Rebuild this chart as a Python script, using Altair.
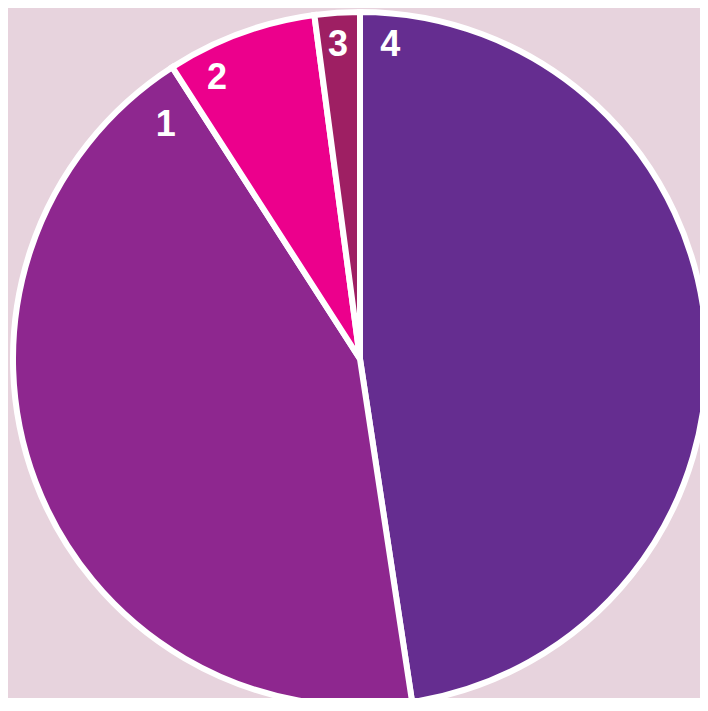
import altair as alt
import pandas as pd

# slice data (clockwise from 12 o'clock)
labels = ["4", "1", "2", "3"]
values = [47.6, 43.3, 7.0, 2.1]
colors = ["#652d90", "#8e278f", "#ec008c", "#9e1f63"]

# label placement (degrees clockwise from top, distance from centre)
label_angles = [5.5, 320.3, 333.0, 356.0]
label_radii = [315, 304, 315, 315]

df = pd.DataFrame({
    "label": labels,
    "value": values,
    "order": list(range(len(labels))),
    "angle": label_angles,
    "r": label_radii,
})

CX, CY = 352, 351

arcs = alt.Chart(df).mark_arc(
    outerRadius=347, stroke="white", strokeWidth=6
).encode(
    theta=alt.Theta("value:Q", stack=True),
    order=alt.Order("order:Q"),
    color=alt.Color("label:N", scale=alt.Scale(domain=labels, range=colors), legend=None),
    x=alt.value(CX),
    y=alt.value(CY),
)

text = alt.Chart(df).transform_calculate(
    rad="datum.angle * PI / 180"
).mark_text(
    font="Liberation Sans", fontWeight="bold", fontSize=36,
    color="white", align="center", baseline="middle"
).encode(
    theta=alt.Theta("rad:Q", scale=None, stack=None),
    radius=alt.Radius("r:Q", scale=None),
    text="label:N",
    x=alt.value(CX),
    y=alt.value(CY),
)

chart = alt.layer(arcs, text).resolve_scale(theta="independent").properties(
    width=692, height=690, padding=0, background="#e7d3dd",
    autosize=alt.AutoSizeParams(type="none"),
).configure_view(stroke=None)

chart.save("out.html", embed_options={"renderer": "svg", "actions": False})
